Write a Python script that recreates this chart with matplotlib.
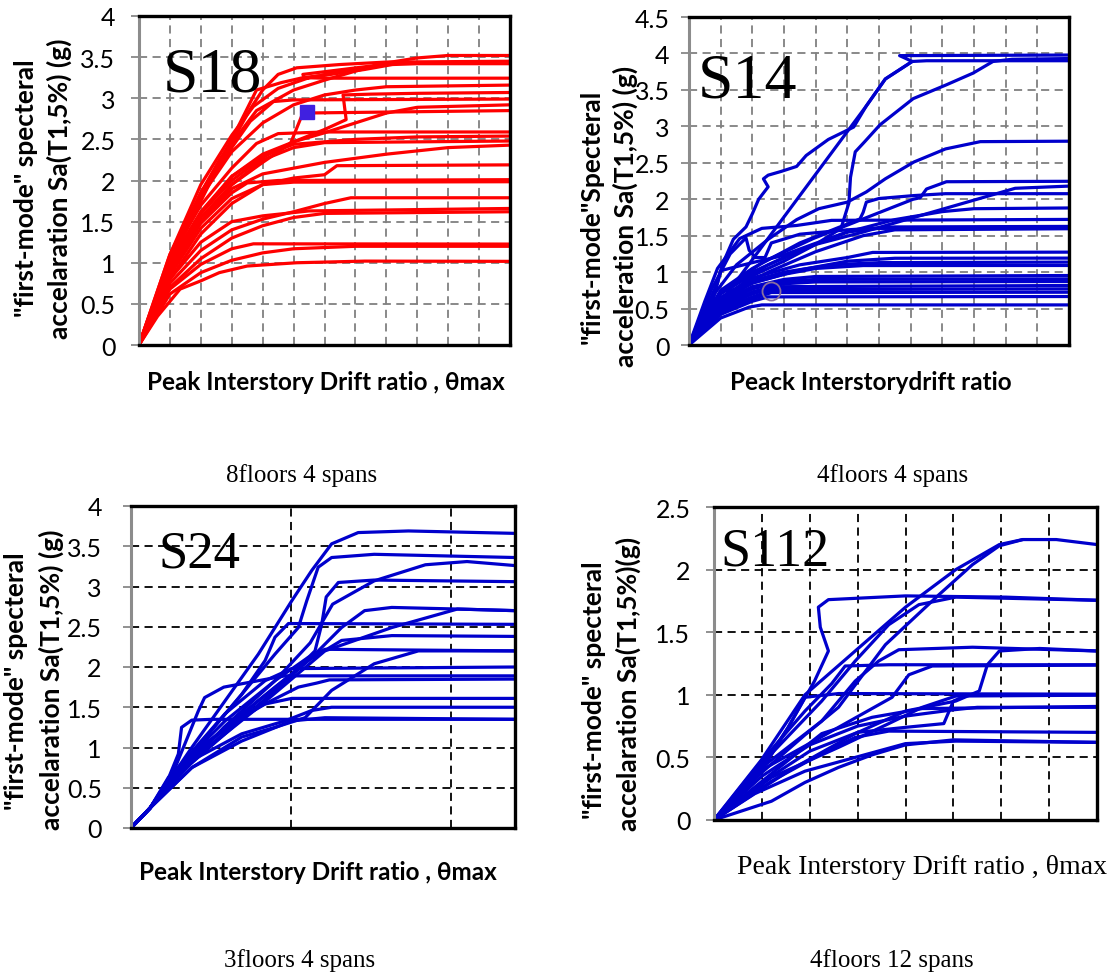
import numpy as np
import matplotlib.pyplot as plt

W, H = 1114, 979

# S18 : 8 floors, 4 spans  (x in grid steps 0..12, y = Sa in g)
s18_curves = [
    ([0, 0.5, 1, 1.5, 2, 2.6, 3.2, 3.6, 4.0, 4.5, 5.1, 6.5, 8, 12],
     [0, 0.45, 0.95, 1.4, 1.85, 2.25, 2.6, 2.87, 3.1, 3.29, 3.37, 3.41, 3.44, 3.45]),
    ([0, 1, 2, 3, 3.8, 4.6, 5.3, 6.2, 7.3, 8.2, 9, 12],
     [0, 1.0, 1.75, 2.5, 3.1, 3.19, 3.25, 3.29, 3.35, 3.41, 3.42, 3.42]),
    ([0, 1, 2, 3, 3.8, 5, 6, 7, 8, 9, 10, 12],
     [0, 1.05, 1.85, 2.45, 2.85, 3.1, 3.22, 3.33, 3.43, 3.49, 3.52, 3.52]),
    ([0, 1, 2, 3, 3.7, 4.5, 5.5, 7, 8.1, 5.3, 5.35, 6, 12],
     [0, 1.1, 1.95, 2.55, 2.9, 3.12, 3.25, 3.35, 3.42, 3.29, 3.25, 3.244, 3.244]),
    ([0, 1, 2, 3, 4, 5, 6, 7, 8, 12],
     [0, 1.05, 1.8, 2.35, 2.7, 2.92, 3.04, 3.1, 3.14, 3.16]),
    ([0, 1, 2, 3, 4, 5, 6, 6.7, 6.6, 7.5, 9, 12],
     [0, 1.0, 1.6, 2.0, 2.28, 2.47, 2.62, 2.74, 3.04, 3.05, 3.06, 3.07]),
    ([0, 1, 2, 3, 3.6, 4.35, 5, 12],
     [0, 1.1, 1.85, 2.4, 2.72, 2.96, 2.98, 2.99]),
    ([0, 1, 2, 3, 4, 5, 6, 7, 8, 9, 12],
     [0, 1.0, 1.62, 2.05, 2.32, 2.47, 2.58, 2.7, 2.82, 2.89, 2.92]),
    ([0, 1, 2, 3, 4, 4.9, 5.3, 12],
     [0, 0.95, 1.55, 1.95, 2.22, 2.45, 2.82, 2.85]),
    ([0, 1, 2, 3, 3.8, 4.5, 6, 12],
     [0, 1.05, 1.7, 2.15, 2.45, 2.57, 2.59, 2.59]),
    ([0, 1, 2, 3, 4, 5, 7, 9, 12],
     [0, 0.95, 1.6, 2.05, 2.3, 2.44, 2.5, 2.53, 2.54]),
    ([0, 1, 2, 3, 4, 5, 6, 12],
     [0, 0.9, 1.5, 1.95, 2.25, 2.4, 2.46, 2.48]),
    ([0, 1, 2, 3, 4, 6, 8, 10, 12],
     [0, 0.9, 1.5, 1.9, 2.08, 2.22, 2.32, 2.4, 2.43]),
    ([0, 1, 2, 3, 4, 5, 6, 6.4, 12],
     [0, 0.85, 1.42, 1.78, 1.95, 2.03, 2.07, 2.18, 2.19]),
    ([0, 1, 2, 3, 3.5, 4.5, 12],
     [0, 0.88, 1.48, 1.85, 1.97, 2.0, 2.01]),
    ([0, 1, 2, 3, 4, 5, 12],
     [0, 0.8, 1.35, 1.72, 1.95, 1.98, 1.985]),
    ([0, 1, 2, 3, 4, 5, 6, 6.85, 12],
     [0, 0.75, 1.15, 1.4, 1.53, 1.62, 1.72, 1.79, 1.79]),
    ([0, 1, 2, 3, 4, 5.5, 12],
     [0, 0.8, 1.25, 1.5, 1.57, 1.63, 1.66]),
    ([0, 1, 2, 3, 4, 5, 6, 12],
     [0, 0.7, 1.05, 1.3, 1.45, 1.55, 1.6, 1.62]),
    ([0, 1, 2, 3, 3.7, 12],
     [0, 0.68, 0.98, 1.17, 1.23, 1.227]),
    ([0, 1, 2, 3, 4, 5, 7, 12],
     [0, 0.62, 0.88, 1.03, 1.12, 1.17, 1.2, 1.2]),
    ([0, 0.6, 1.33, 2, 2.6, 3.5, 5.1, 7.3, 12],
     [0, 0.35, 0.68, 0.78, 0.88, 0.96, 1.0, 1.02, 1.017]),
]
s18_square = (5.43, 2.835)

# S14 : 4 floors, 4 spans
s14_curves = [
    ([0, 0.75, 1.05, 1.4, 1.8, 2.0, 2.2, 2.5, 2.35, 2.5, 2.9, 3.4, 3.7, 4.4, 5.2, 5.6, 6.2, 7.05, 6.65, 12],
     [0, 0.6, 1.1, 1.45, 1.62, 1.8, 2.0, 2.17, 2.28, 2.33, 2.38, 2.45, 2.6, 2.82, 2.99, 3.28, 3.65, 3.89, 3.97, 3.978]),
    ([0, 1, 2, 3, 4, 4.8, 5.05, 5.1, 5.25, 5.55, 6.03, 7.08, 8.13, 8.97, 9.6, 10.2, 12],
     [0, 0.6, 0.95, 1.15, 1.38, 1.6, 1.95, 2.3, 2.65, 2.79, 3.02, 3.38, 3.57, 3.73, 3.89, 3.92, 3.93]),
    ([0, 5.6, 6.2, 7.05, 7.5, 12],
     [0, 3.28, 3.65, 3.89, 3.9, 3.9]),
    ([0, 0.8, 1.5, 2.5, 3.4, 4.1, 5.0, 5.6, 6.2, 7.1, 8.1, 9.2, 12],
     [0, 0.7, 1.1, 1.45, 1.72, 1.87, 1.96, 2.1, 2.28, 2.51, 2.69, 2.79, 2.796]),
    ([0, 0.98, 2.34, 3.92, 5.5, 7.08, 7.3, 7.5, 8.13, 12],
     [0, 0.72, 1.14, 1.46, 1.73, 2.0, 2.02, 2.14, 2.24, 2.246]),
    ([0, 1, 2.5, 4, 5.5, 7.5, 9.5, 10.3, 12],
     [0, 0.7, 1.1, 1.38, 1.55, 1.8, 2.05, 2.15, 2.18]),
    ([0, 1, 2, 3.5, 5.4, 5.5, 5.6, 6.0, 7.1, 8.1, 12],
     [0, 0.75, 1.05, 1.4, 1.73, 1.82, 1.96, 2.01, 2.05, 2.076, 2.076]),
    ([0, 1, 2, 3.5, 5, 6.5, 8, 9, 12],
     [0, 0.72, 1.0, 1.3, 1.55, 1.72, 1.83, 1.87, 1.88]),
    ([0, 0.5, 0.9, 1.6, 2.3, 3.4, 4.5, 12],
     [0, 0.6, 1.05, 1.46, 1.6, 1.64, 1.71, 1.723]),
    ([0, 0.7, 1.0, 1.3, 1.8, 1.9, 2.1, 2.4, 2.6, 3.5, 5, 6.5, 12],
     [0, 0.75, 1.0, 1.25, 1.47, 1.3, 1.2, 1.2, 1.4, 1.52, 1.58, 1.62, 1.627]),
    ([0, 1, 2.5, 4, 5.5, 6.5, 12],
     [0, 0.65, 1.0, 1.28, 1.5, 1.58, 1.595]),
    ([0, 0.9, 1.0, 2.0, 2.9, 3.9, 5.0, 6.0, 12],
     [0, 0.85, 1.02, 1.13, 1.22, 1.38, 1.55, 1.6, 1.6]),
    ([0, 1, 2, 3.5, 5, 5.8, 12],
     [0, 0.65, 0.92, 1.1, 1.2, 1.27, 1.274]),
    ([0, 1, 2, 3.5, 5, 6.5, 12],
     [0, 0.6, 0.85, 1.03, 1.15, 1.19, 1.192]),
    ([0, 1, 2, 3, 4.5, 6, 12],
     [0, 0.62, 0.88, 1.0, 1.1, 1.13, 1.137]),
    ([0, 1, 2, 3, 4, 5.5, 12],
     [0, 0.6, 0.85, 0.97, 1.05, 1.09, 1.091]),
    ([0, 1, 2, 3, 4, 12], [0, 0.58, 0.8, 0.9, 0.94, 0.953]),
    ([0, 1, 2, 3, 4, 12], [0, 0.55, 0.77, 0.87, 0.9, 0.907]),
    ([0, 1, 2, 3, 4, 12], [0, 0.52, 0.73, 0.84, 0.865, 0.871]),
    ([0, 1, 2, 2.8, 12], [0, 0.5, 0.7, 0.8, 0.816]),
    ([0, 1, 2, 2.7, 12], [0, 0.48, 0.66, 0.76, 0.77]),
    ([0, 1, 2, 2.6, 12], [0, 0.45, 0.63, 0.72, 0.724]),
    ([0, 1, 2, 2.5, 12], [0, 0.42, 0.6, 0.66, 0.665]),
    ([0, 1, 1.9, 2.3, 12], [0, 0.37, 0.52, 0.55, 0.55]),
]
s14_circle = (2.58, 0.742)

# S24 : 3 floors, 4 spans
s24_curves = [
    ([0, 0.6, 1.06, 1.9, 2.94, 3.98, 5.02, 5.65, 6.27, 7.1, 8.67, 12],
     [0, 0.25, 0.51, 1.0, 1.58, 2.16, 2.82, 3.2, 3.53, 3.67, 3.69, 3.66]),
    ([0, 0.6, 1.06, 2.42, 3.46, 4.5, 5.23, 5.49, 5.85, 6.27, 7.6, 12],
     [0, 0.25, 0.51, 1.17, 1.66, 2.16, 2.49, 2.82, 3.24, 3.36, 3.40, 3.36]),
    ([0, 0.6, 1.4, 2.9, 4.5, 5.6, 6.3, 7.6, 9.2, 10.5, 12],
     [0, 0.25, 0.6, 1.25, 1.83, 2.3, 2.78, 3.07, 3.27, 3.31, 3.26]),
    ([0, 0.6, 1.17, 2.42, 3.98, 5.02, 5.75, 5.96, 6.1, 6.48, 7.6, 12],
     [0, 0.25, 0.55, 1.0, 1.58, 1.91, 2.2, 2.53, 2.87, 3.05, 3.08, 3.06]),
    ([0, 0.6, 1.38, 2.94, 4.5, 5.65, 6.58, 7.3, 8.15, 10.2, 12],
     [0, 0.25, 0.63, 1.17, 1.71, 2.12, 2.49, 2.70, 2.74, 2.72, 2.70]),
    ([0, 0.6, 1.9, 3.98, 6.06, 8.15, 10.2, 12],
     [0, 0.25, 0.84, 1.5, 2.2, 2.49, 2.72, 2.70]),
    ([0, 0.6, 1.17, 2.42, 3.46, 4.19, 4.5, 4.92, 12],
     [0, 0.25, 0.59, 1.17, 1.66, 2.08, 2.37, 2.54, 2.53]),
    ([0, 0.6, 1.38, 2.94, 4.5, 5.54, 6.58, 8.15, 12],
     [0, 0.25, 0.67, 1.25, 1.75, 2.08, 2.33, 2.39, 2.38]),
    ([0, 0.6, 1.38, 2.94, 4.5, 5.54, 6.06, 12],
     [0, 0.25, 0.71, 1.33, 1.83, 2.12, 2.22, 2.20]),
    ([0, 0.6, 1.9, 3.46, 4.5, 5.44, 6.27, 7.6, 8.98, 12],
     [0, 0.25, 0.75, 1.13, 1.25, 1.37, 1.71, 2.04, 2.20, 2.20]),
    ([0, 0.6, 1.38, 2.94, 4.19, 5.02, 12],
     [0, 0.25, 0.71, 1.42, 1.83, 1.98, 2.00]),
    ([0, 0.6, 1.38, 2.1, 2.3, 2.9, 3.98, 4.81, 12],
     [0, 0.25, 0.75, 1.45, 1.62, 1.75, 1.83, 1.89, 1.89]),
    ([0, 0.6, 1.17, 2.42, 3.98, 5.23, 5.8, 6.2, 12],
     [0, 0.25, 0.63, 1.08, 1.5, 1.75, 1.8, 1.84, 1.85]),
    ([0, 0.6, 1.38, 2.94, 4.19, 5.02, 12],
     [0, 0.25, 0.71, 1.25, 1.54, 1.61, 1.61]),
    ([0, 0.6, 1.9, 3.46, 4.81, 5.65, 6.27, 12],
     [0, 0.25, 0.84, 1.17, 1.33, 1.46, 1.50, 1.50]),
    ([0, 0.6, 1.06, 1.48, 1.58, 1.9, 2.52, 12],
     [0, 0.25, 0.51, 0.92, 1.25, 1.34, 1.35, 1.35]),
    ([0, 0.6, 1.9, 3.46, 5.02, 6.06, 12],
     [0, 0.25, 0.75, 1.08, 1.33, 1.37, 1.35]),
]

# S112 : 4 floors, 12 spans  (x in grid steps 0..8)
s112_curves = [
    ([0, 0.99, 1.9, 2.95, 4.0, 5.05, 5.96, 6.45, 7.15, 8],
     [0, 0.48, 1.0, 1.35, 1.7, 2.0, 2.2, 2.24, 2.24, 2.2]),
    ([0, 1.0, 1.9, 2.6, 3.58, 4.7, 5.4, 5.96, 6.45],
     [0, 0.38, 0.68, 0.9, 1.4, 1.8, 2.04, 2.19, 2.24]),
    ([0, 0.99, 1.55, 2.1, 2.39, 2.22, 2.18, 2.39, 4.0, 6.1, 8],
     [0, 0.39, 0.74, 1.11, 1.35, 1.54, 1.70, 1.76, 1.79, 1.78, 1.755]),
    ([0, 1.0, 2.25, 2.95, 3.65, 4.28, 5.05, 8],
     [0, 0.45, 0.95, 1.27, 1.56, 1.72, 1.78, 1.755]),
    ([0, 1.0, 2.25, 2.95, 3.44, 3.86, 5.4, 8],
     [0, 0.42, 0.79, 1.11, 1.27, 1.36, 1.38, 1.35]),
    ([0, 1.55, 2.95, 4.0, 5.05, 5.54, 5.71, 5.96, 6.8, 8],
     [0, 0.39, 0.69, 0.87, 0.95, 1.03, 1.24, 1.35, 1.37, 1.35]),
    ([0, 1.0, 2.6, 3.72, 4.07, 4.56, 8],
     [0, 0.4, 0.74, 0.98, 1.16, 1.23, 1.237]),
    ([0, 0.99, 1.9, 2.46, 2.74, 3.65, 8],
     [0, 0.47, 0.87, 1.09, 1.23, 1.24, 1.24]),
    ([0, 0.99, 1.55, 1.9, 2.6, 8],
     [0, 0.42, 0.74, 0.98, 1.01, 1.005]),
    ([0, 1.2, 2.6, 3.65, 4.35, 5.05, 8],
     [0, 0.34, 0.58, 0.77, 0.9, 0.99, 0.997]),
    ([0, 1.2, 2.25, 3.3, 4.35, 8],
     [0, 0.37, 0.69, 0.82, 0.89, 0.907]),
    ([0, 1, 2, 3, 4, 5, 5.5, 8],
     [0, 0.35, 0.6, 0.75, 0.83, 0.88, 0.9, 0.9]),
    ([0, 1, 2, 3, 4, 4.8, 5.0, 5.3, 8],
     [0, 0.3, 0.55, 0.7, 0.74, 0.77, 0.95, 1.0, 1.0]),
    ([0, 1.2, 2.25, 2.95, 3.65, 8],
     [0, 0.31, 0.53, 0.66, 0.71, 0.70]),
    ([0, 0.85, 1.9, 2.95, 4.0, 5.05, 8],
     [0, 0.21, 0.39, 0.5, 0.61, 0.63, 0.62]),
    ([0, 1.2, 1.9, 2.6, 3.3, 4.0, 5.0, 8],
     [0, 0.15, 0.3, 0.42, 0.52, 0.6, 0.64, 0.62]),
]

ylabel_a = '"first-mode" specteral'
ylabel_b = 'accelaration Sa(T1,5%) (g)'
xlabel = 'Peak Interstory Drift ratio , θmax'

plt.rcParams['font.family'] = ['Lato', 'DejaVu Sans']

fig = plt.figure(figsize=(W / 100, H / 100), dpi=100)


def box(left, top, right, bottom):
    return [left / W, 1 - bottom / H, (right - left) / W, (bottom - top) / H]


def fx(x):
    return x / W


def fy(y):
    return 1 - y / H


def panel(rect, curves, color, xmax, ymax, ystep, xstep, gcolor, pad):
    ax = fig.add_axes(rect)
    for xs, ys in curves:
        ax.plot(xs, ys, color=color, lw=2.3, solid_joinstyle='round',
                solid_capstyle='round')
    ax.set_xlim(0, xmax)
    ax.set_ylim(0, ymax)
    ax.set_xticks(np.arange(0, xmax + 1e-9, xstep))
    ax.set_xticklabels([])
    yt = np.arange(0, ymax + 1e-9, ystep)
    ax.set_yticks(yt)
    ax.set_yticklabels([f'{v:g}' for v in yt])
    ax.tick_params(axis='x', length=0)
    ax.tick_params(axis='y', length=6, width=1.3, color='#888888',
                   labelsize=18, pad=pad)
    ax.grid(True, color=gcolor, linestyle=(0, (4.5, 3)), lw=1.3)
    ax.set_axisbelow(True)
    for s in ['top', 'right', 'bottom']:
        ax.spines[s].set_color('black')
        ax.spines[s].set_linewidth(2.4)
    ax.spines['left'].set_color('#8c8c8c')
    ax.spines['left'].set_linewidth(2.2)
    return ax


ax1 = panel(box(139, 17, 510, 346), s18_curves, '#ff0000', 12, 4, 0.5, 1, '#808080', 11)
ax1.plot(*s18_square, marker='s', ms=10, color='#4020e0', mec='#4020e0')

ax2 = panel(box(689, 18, 1069, 346), s14_curves, '#0000cc', 12, 4.5, 0.5, 1, '#808080', 8)
ax2.plot(*s14_circle, marker='o', ms=13, mfc='none', mec='#8a6f9e', mew=1.3)

ax3 = panel(box(131, 507, 515, 829), s24_curves, '#0000cc', 12, 4, 0.5, 5, 'black', 15)
ax4 = panel(box(714, 508, 1097, 821), s112_curves, '#0000cc', 8, 2.5, 0.5, 1, 'black', 11)

# structure names
serif = 'Liberation Serif'
fig.text(fx(163), fy(92), 'S18', family=serif, size=46, va='baseline')
fig.text(fx(698), fy(97), 'S14', family=serif, size=46, va='baseline')
fig.text(fx(158), fy(568), 'S24', family=serif, size=38, va='baseline')
fig.text(fx(720), fy(566), 'S112', family=serif, size=39, va='baseline')

# y axis titles, two lines each
ylab = dict(rotation=90, ha='center', va='center', size=19, weight='bold')
fig.text(fx(26), fy(188), ylabel_a, **ylab)
fig.text(fx(59), fy(189), ylabel_b, **ylab)
fig.text(fx(592), fy(217), '"first-mode"Specteral', **ylab)
fig.text(fx(625), fy(216), 'acceleration Sa(T1,5%) (g)', **ylab)
fig.text(fx(16), fy(681), ylabel_a, **ylab)
fig.text(fx(51), fy(680), ylabel_b, **ylab)
fig.text(fx(594), fy(690), ylabel_a, **ylab)
fig.text(fx(628), fy(684), 'accelaration Sa(T1,5%)(g)', **ylab)

# x axis titles
xlab = dict(ha='center', va='center', size=17.5, weight='bold')
fig.text(fx(326), fy(383), xlabel, **xlab)
fig.text(fx(871), fy(383), 'Peack Interstorydrift ratio', **xlab)
fig.text(fx(318), fy(872), xlabel, **xlab)
fig.text(fx(922), fy(868), xlabel, ha='center', va='center', size=20,
         family=[serif, 'DejaVu Serif'])

# captions under each panel
cap = dict(ha='center', va='baseline', size=18, family=serif)
fig.text(fx(302), fy(482), '8floors 4 spans', **cap)
fig.text(fx(893), fy(482), '4floors 4 spans', **cap)
fig.text(fx(300), fy(967), '3floors 4 spans', **cap)
fig.text(fx(892), fy(967), '4floors 12 spans', **cap)

fig.savefig('out.png', dpi=100)
